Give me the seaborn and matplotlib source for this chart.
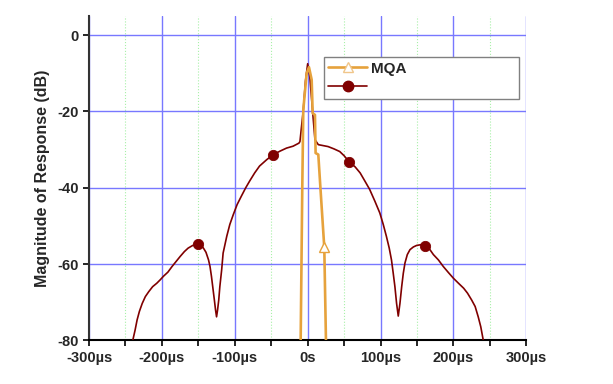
import matplotlib
matplotlib.use("Agg")
import matplotlib.pyplot as plt
from matplotlib.lines import Line2D
from matplotlib.ticker import FixedLocator
import seaborn as sns

# red (wide) impulse response, time in µs, magnitude in dB
red_x = [-240, -236.8, -234, -230.9, -227, -222.7, -218, -212.7, -207, -202.3,
         -198, -191.8, -186, -180.5, -175, -169.1, -164, -157.7, -151, -145.5,
         -143, -139.5, -136, -134, -132, -128, -126.4, -125, -123.6, -122,
         -120.5, -118, -116, -111, -106.8, -102, -96.8, -91, -85, -79.5, -72.7,
         -66, -56, -47, -38, -29, -20, -15, -12, -10.6, -6, -3, 0, 3, 5.5, 10,
         14.6, 20, 28, 36, 44, 50, 57, 65, 72, 78.4, 85, 92.2, 99, 103.7, 108,
         111.9, 115, 117.4, 119.7, 122, 124.3, 126.6, 129, 131.2, 133.5, 136.7,
         140.4, 145, 149.5, 155.5, 161.5, 167, 172.5, 179.4, 186, 193.1, 200,
         206.9, 214, 219.3, 225, 229.8, 234, 237.5, 241]
red_y = [-80, -77.3, -74.6, -72.4, -70.3, -68.5, -67.2, -65.9, -65, -64.1,
         -63.2, -62.1, -60.6, -59.3, -58, -56.7, -55.8, -55.1, -54.7, -55.2,
         -55.8, -56.9, -58.9, -60.6, -63.2, -69.4, -72, -73.8, -72, -69.4,
         -65.9, -61.5, -57.1, -52.7, -49.6, -47, -44.4, -42.2, -40, -38.2, -36.1,
         -34.3, -32.6, -31.3, -30.4, -29.6, -29.1, -28.6, -28.3, -27.9, -19.6,
         -12, -7.5, -11, -17, -27.4, -28.7, -28.9, -29.2, -29.8, -30.5, -31.6,
         -33.2, -34.5, -36.1, -38.2, -40.4, -43.5, -46.6, -49.6, -52.7, -55.8,
         -58.9, -62.4, -65.9, -70.3, -73.6, -70.3, -65.9, -62.4, -59.7, -57.5,
         -56.2, -55.5, -55.1, -54.9, -55.2, -56, -57.5, -58.9, -60.6, -62.2,
         -63.7, -65, -66.3, -67.6, -69.4, -71.1, -73.8, -76.4, -80]
red_mark_x = [-151, -47, 57, 161.5]
red_mark_y = [-54.7, -31.3, -33.2, -55.2]

# MQA impulse response
mqa_x = [-9.6, -7.4, -6, -1.4, 1.8, 5.5, 6.9, 10, 10.9, 14.6, 17.5, 22.8, 25.1]
mqa_y = [-80, -40, -19.6, -10, -8.4, -11.7, -20.5, -20.9, -30.9, -31.3, -40,
         -55.6, -80]
mqa_mark_x = [22.8]
mqa_mark_y = [-55.6]

x_ticks = [-300, -200, -100, 0, 100, 200, 300]
x_tick_labels = ["-300µs", "-200µs", "-100µs", "0s", "100µs", "200µs", "300µs"]
x_minor = [-250, -150, -50, 50, 150, 250]
y_ticks = [0, -20, -40, -60, -80]

RED = "#800000"
ORANGE = "#E6A23C"

sns.set_theme(style="white")
plt.rcParams["font.family"] = ["Liberation Sans", "DejaVu Sans"]
plt.rcParams["font.weight"] = "bold"

fig = plt.figure(figsize=(6.13, 3.84), dpi=100)
ax = fig.add_axes([0.1452, 0.1133, 0.7134, 0.845])

sns.lineplot(x=red_x, y=red_y, color=RED, lw=1.2, sort=False, ax=ax, zorder=3)
sns.scatterplot(x=red_mark_x, y=red_mark_y, color=RED, s=55, edgecolor=RED,
                ax=ax, zorder=4)
sns.lineplot(x=mqa_x, y=mqa_y, color=ORANGE, lw=1.9, sort=False, ax=ax, zorder=5)
ax.plot(mqa_mark_x, mqa_mark_y, ls="none", marker="^", ms=6.5, mfc="white",
        mec=ORANGE, mew=1.0, zorder=6)

ax.set_xlim(-300, 300)
ax.set_ylim(-80, 5)
ax.set_xticks(x_ticks)
ax.set_xticklabels(x_tick_labels)
ax.xaxis.set_minor_locator(FixedLocator(x_minor))
ax.set_yticks(y_ticks)
ax.set_yticklabels([str(v) for v in y_ticks])

ax.set_axisbelow(True)
ax.grid(which="major", axis="both", color="#7878ff", lw=1.0)
ax.grid(which="minor", axis="x", color="#a8f0a8", lw=0.8, ls=":")

for side in ["top", "right"]:
    ax.spines[side].set_visible(False)
ax.spines["left"].set_color("#333333")
ax.spines["left"].set_linewidth(1.5)
ax.spines["bottom"].set_color("black")
ax.spines["bottom"].set_linewidth(1.5)

ax.tick_params(axis="both", which="major", direction="out", length=4.5,
               width=1.2, color="black", labelsize=10.5, pad=3, left=True,
               bottom=True)
ax.tick_params(axis="x", which="minor", direction="out", length=4.5,
               width=1.2, color="black", bottom=True)
for lab in ax.get_xticklabels() + ax.get_yticklabels():
    lab.set_fontweight("bold")

ax.set_xlabel("")
ax.set_ylabel("Magnitude of Response (dB)", fontsize=11.5, fontweight="bold",
              labelpad=5)

handles = [
    Line2D([], [], color=ORANGE, lw=1.9, marker="^", ms=7, mfc="white",
           mec="#F0C68A", label="MQA"),
    Line2D([], [], color=RED, lw=1.2, marker="o", ms=7.5, label=""),
]
leg = ax.legend(handles=handles, loc="upper left",
                bbox_to_anchor=(0.537, 0.754, 0.447, 0.119), mode="expand",
                frameon=True, fancybox=False, framealpha=1, edgecolor="#808080",
                prop={"weight": "bold", "size": 11}, handlelength=2.5,
                handletextpad=0.3, borderpad=0.3, labelspacing=0.3,
                borderaxespad=0)
leg.get_frame().set_linewidth(1.0)

fig.savefig("out.png", dpi=100)
